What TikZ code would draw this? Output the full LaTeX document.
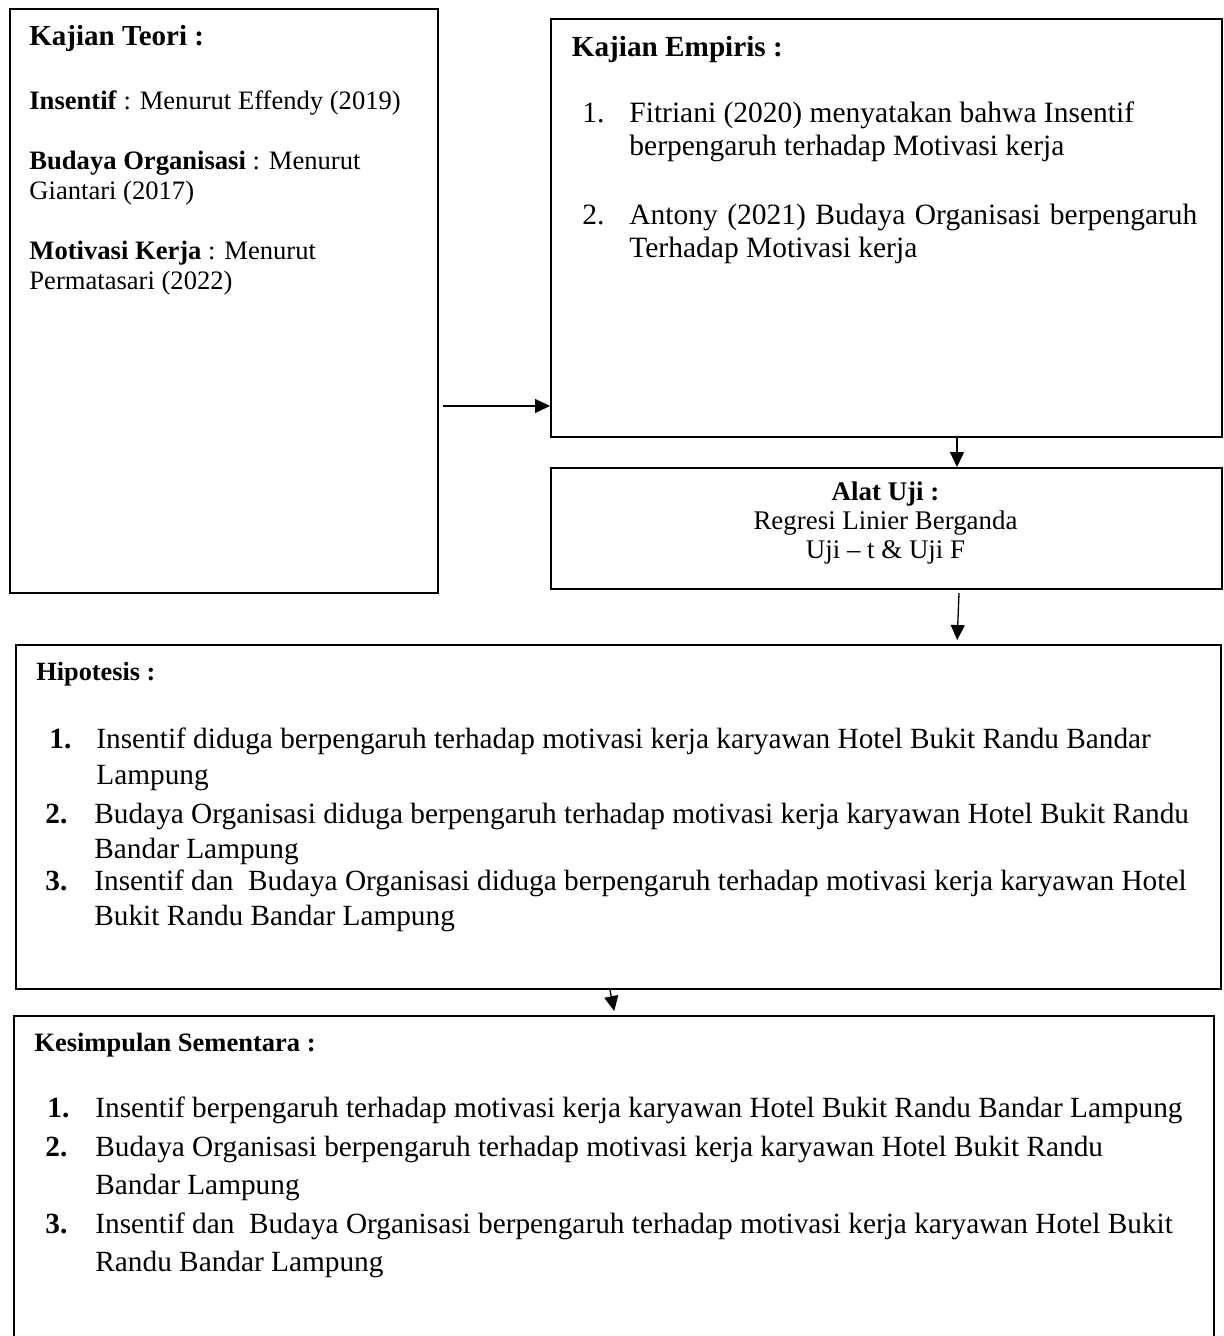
\documentclass[tikz,border=0pt]{standalone}
\usepackage{fontspec}
\setmainfont{Liberation Serif}
\usetikzlibrary{arrows.meta}
\tikzstyle{kotak}=[draw, line width=1pt, anchor=north west, inner sep=0pt]
\tikzstyle{teks}=[anchor=base west, inner sep=0pt, align=left]
\tikzstyle{panah}=[line width=0.65pt, -{Triangle[length=7.5pt, width=7pt]}]
\newcommand{\ukuran}[2]{\fontsize{#1}{#2}\selectfont}

\begin{document}
\begin{tikzpicture}[x=0.5pt, y=-0.5pt]
        \useasboundingbox (0,0) rectangle (1223,1336);
        \clip (0,0) rectangle (1223,1336);
        \node[kotak, minimum width=214pt, minimum height=292pt]   (teori) at (9,8) {};
        \node[kotak, minimum width=335.5pt, minimum height=209pt] (empiris) at (550,18) {};
        \node[kotak, minimum width=335.5pt, minimum height=60.5pt] (alat) at (550,467) {};
        \node[kotak, minimum width=602.5pt, minimum height=172pt] (hipotesis) at (15,644) {};
        \node[kotak, minimum width=600pt, minimum height=170pt]   (simpulan) at (13,1015) {};
        \node[teks, font={\bfseries\ukuran{14.5}{17}}]  (judulteori) at (29,46) {Kajian Teori :};
        \node[teks, font={\ukuran{13.3}{14.75}}]        (teori1) at (29,110) {\textbf{Insentif} : Menurut Effendy (2019)};
        \node[teks, font={\ukuran{13.3}{14.75}}]        (teori2) at (29,199.5) {\textbf{Budaya Organisasi} : Menurut\\Giantari (2017)};
        \node[teks, font={\ukuran{13.3}{14.75}}]        (teori3) at (29,289.5) {\textbf{Motivasi Kerja} : Menurut\\Permatasari (2022)};
        \node[teks, font={\bfseries\ukuran{14.6}{17}}]  (judulempiris) at (571.5,57) {Kajian Empiris :};
        \node[teks, font={\ukuran{14.75}{16.5}}]        (noemp1) at (582,123) {1.};
        \node[teks, font={\ukuran{14.75}{16.5}}]        (emp1) at (629,156) {Fitriani (2020) menyatakan bahwa Insentif\\berpengaruh terhadap Motivasi kerja};
        \node[teks, font={\ukuran{14.75}{16.5}}]        (noemp2) at (582,225) {2.};
        \node[teks, font={\ukuran{14.75}{16.5}}]        (emp2) at (629,258) {\makebox[284pt][s]{Antony (2021) Budaya Organisasi berpengaruh}\\Terhadap Motivasi kerja};
        \node[font={\ukuran{13.45}{14.5}}, align=center, anchor=base, inner sep=0pt] (alatuji) at (885.5,558) {\textbf{Alat Uji :}\\Regresi Linier Berganda\\Uji -- t \& Uji F};
        \node[teks, font={\bfseries\ukuran{13.15}{16}}] (judulhipo) at (36,680) {Hipotesis :};
        \node[teks, font={\bfseries\ukuran{14.65}{18}}] (nohipo1) at (49,748) {1.};
        \node[teks, font={\ukuran{14.65}{18}}]          (hipo1) at (96,784) {Insentif diduga berpengaruh terhadap motivasi kerja karyawan Hotel Bukit Randu Bandar\\Lampung};
        \node[teks, font={\bfseries\ukuran{14.65}{18}}] (nohipo2) at (45,823) {2.};
        \node[teks, font={\ukuran{14.65}{17.5}}]        (hipo2) at (94,858) {Budaya Organisasi diduga berpengaruh terhadap motivasi kerja karyawan Hotel Bukit Randu\\Bandar Lampung};
        \node[teks, font={\bfseries\ukuran{14.65}{18}}] (nohipo3) at (45,890) {3.};
        \node[teks, font={\ukuran{14.65}{17.5}}]        (hipo3) at (94,925) {Insentif dan\ \ Budaya Organisasi diduga berpengaruh terhadap motivasi kerja karyawan Hotel\\Bukit Randu Bandar Lampung};
        \node[teks, font={\bfseries\ukuran{13.25}{16}}] (judulsimpul) at (34,1051) {Kesimpulan Sementara :};
        \node[teks, font={\bfseries\ukuran{14.65}{19}}] (nosimpul1) at (47,1117) {1.};
        \node[teks, font={\ukuran{14.65}{19}}]          (simpul1) at (95,1117) {Insentif berpengaruh terhadap motivasi kerja karyawan Hotel Bukit Randu Bandar Lampung};
        \node[teks, font={\bfseries\ukuran{14.65}{19}}] (nosimpul2) at (45,1156) {2.};
        \node[teks, font={\ukuran{14.65}{19}}]          (simpul2) at (95,1194) {Budaya Organisasi berpengaruh terhadap motivasi kerja karyawan Hotel Bukit Randu\\Bandar Lampung};
        \node[teks, font={\bfseries\ukuran{14.65}{19}}] (nosimpul3) at (45,1233) {3.};
        \node[teks, font={\ukuran{14.65}{19}}]          (simpul3) at (95,1271) {Insentif dan\ \ Budaya Organisasi berpengaruh terhadap motivasi kerja karyawan Hotel Bukit\\Randu Bandar Lampung};
        \coordinate (p1) at (443,406);
        \coordinate (p2) at (957,0);
        \coordinate (p3) at (959,593);
        \coordinate (p4) at (610,0);
        \coordinate (p5) at (615,0);
        \draw[panah] (p1) -- (empiris.west |- p1);
        \draw[panah] (empiris.south -| p2) -- (alat.north -| p2);
        \draw[panah, shorten >=2pt] (p3) -- (hipotesis.north -| p2);
        \draw[panah, shorten >=2pt] (hipotesis.south -| p4) -- (simpulan.north -| p5);
    \end{tikzpicture}
\end{document}
